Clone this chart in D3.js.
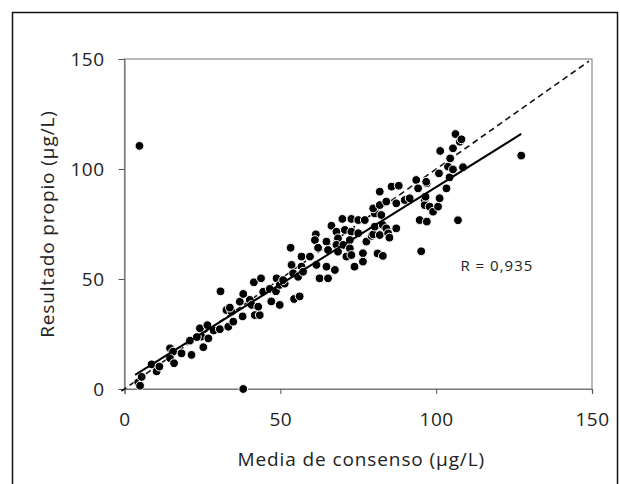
<!DOCTYPE html>
<html>
<head>
<meta charset="utf-8">
<script src="https://d3js.org/d3.v7.min.js"></script>
<style>
  body { margin: 0; background: #fff; }
  text { font-family: "Open Sans", "Noto Sans", sans-serif; fill: #222; }
</style>
</head>
<body>
<div id="my_dataviz"></div>
<script>

// values: consensus mean (x) and own result (y), µg/L
var consenso = [
  4.4, 5.0, 5.5, 8.7, 10.3, 11.2, 14.6, 15.6, 14.6, 15.9, 18.3, 21.5, 21.0, 24.2, 24.7, 25.3,
  26.6, 26.9, 23.2, 28.6, 30.6, 32.7, 33.3, 34.3, 33.8, 34.9, 30.8,
  37.0, 37.9, 38.1, 38.1, 40.2, 40.8, 41.5, 41.8, 43.4, 42.9, 43.8, 44.5, 46.6, 47.1, 48.8,
  48.6, 49.8, 49.8, 51.4, 50.9,
  53.3, 53.6, 54.4, 56.2, 54.1, 55.7, 56.8, 56.8, 57.3, 59.5, 61.4, 61.1, 62.1, 61.6, 62.6,
  64.8, 65.3, 64.8, 65.3, 66.4, 68.0, 68.5, 68.0, 68.5, 67.5, 69.9, 70.7, 70.2, 71.2, 72.8,
  72.8, 72.3, 72.3, 72.8, 73.8, 75.0, 75.0, 76.5, 76.5, 77.6,
  77.1, 79.3, 79.8, 80.3, 80.3, 79.8, 81.9, 81.9, 82.4, 82.9, 81.9, 81.2, 82.9, 84.0, 84.0,
  84.6, 85.0, 85.7, 87.2, 87.2, 88.0, 89.9, 91.5, 93.6, 94.2, 94.7, 95.2, 96.3, 96.3, 97.0,
  97.0, 97.9, 99.0, 100.6,
  96.6, 101.1, 103.3, 96.8, 100.9, 104.3, 103.8, 105.4, 108.6, 104.5, 105.4, 101.3, 106.2,
  107.6, 108.1, 127.3, 107.0, 4.8
];
var propio = [
  3.0, 1.5, 5.5, 11.2, 8.0, 10.2, 18.5, 17.0, 14.0, 11.7, 16.2, 15.5, 22.0, 27.6, 23.8, 19.0,
  29.0, 23.0, 23.6, 26.6, 27.2, 35.9, 28.3, 35.2, 37.0, 30.6, 44.4,
  39.7, 33.0, 43.2, 0.0, 40.5, 38.2, 48.5, 33.6, 33.6, 37.4, 50.3, 44.2, 45.5, 39.8, 50.3,
  44.4, 38.2, 47.3, 47.9, 49.5,
  64.2, 56.4, 40.9, 42.1, 52.6, 51.0, 60.2, 55.6, 53.3, 60.2, 70.3, 67.7, 64.2, 56.4, 50.3,
  67.0, 63.2, 55.6, 50.3, 74.2, 71.5, 68.5, 65.5, 62.4, 54.1, 77.3, 72.3, 65.5, 60.2, 77.3,
  71.5, 67.7, 63.9, 60.9, 55.6, 76.8, 70.8, 61.7, 57.9, 67.0,
  76.8, 69.6, 70.3, 73.8, 79.8, 82.1, 83.6, 89.7, 79.1, 74.5, 70.0, 61.6, 60.5, 85.2, 73.0,
  70.7, 68.8, 92.0, 84.4, 73.0, 92.4, 85.9, 86.7, 95.0, 91.2, 76.8, 62.6, 85.9, 83.6, 93.5,
  76.1, 82.9, 80.6, 82.9,
  87.4, 86.7, 91.2, 94.2, 98.0, 96.2, 101.1, 99.8, 100.8, 104.8, 109.4, 108.2, 115.9,
  112.4, 113.5, 106.1, 76.7, 110.5
];

// axis ticks, identity line and fitted line
var xTicks = [0, 50, 100, 150];
var yTicks = [0, 50, 100, 150];
var identityRange = [-1, 149];
var fitRange = [3.4, 127.3];
var fitSlope = 0.884;
var fitIntercept = 3.4;
var rLabel = "R = 0,935";

var data = consenso.map(function(d, i) { return {x: d, y: propio[i]}; });

// set the dimensions and margins of the graph
var margin = {top: 59, right: 28, bottom: 95, left: 124.5},
    width = 620 - margin.left - margin.right,
    height = 484 - margin.top - margin.bottom;

var svgRoot = d3.select("#my_dataviz")
  .append("svg")
    .attr("width", 620)
    .attr("height", 484);

// outer frame (bottom edge runs off the picture)
svgRoot.append("rect")
  .attr("x", 12.5)
  .attr("y", 12.5)
  .attr("width", 605)
  .attr("height", 490)
  .style("fill", "none")
  .style("stroke", "#111")
  .style("stroke-width", 1.5);

var svg = svgRoot.append("g")
  .attr("transform", "translate(" + margin.left + "," + margin.top + ")");

// scales
var x = d3.scaleLinear().domain([0, 150]).range([0, width]);
var y = d3.scaleLinear().domain([0, 150]).range([height, 0]);

// plot box
svg.append("rect")
  .attr("x", 0)
  .attr("y", 0)
  .attr("width", width)
  .attr("height", height)
  .style("fill", "none")
  .style("stroke", "#8a8a8a")
  .style("stroke-width", 1.2);

// X axis
var gx = svg.append("g")
  .attr("transform", "translate(0," + height + ")")
  .call(d3.axisBottom(x).tickValues(xTicks).tickSize(5).tickPadding(19));
gx.select(".domain").style("stroke", "#777").style("stroke-width", 1.2);
gx.selectAll(".tick line").style("stroke", "#555");
gx.selectAll(".tick text")
  .style("font-size", "19px")
  .style("letter-spacing", "0.5px")
  .style("font-family", "'Open Sans', sans-serif")
  .style("fill", "#222");

// Y axis
var gy = svg.append("g")
  .call(d3.axisLeft(y).tickValues(yTicks).tickSize(6).tickPadding(14));
gy.select(".domain").style("stroke", "#777").style("stroke-width", 1.2);
gy.selectAll(".tick line").style("stroke", "#555");
gy.selectAll(".tick text")
  .style("font-size", "19px")
  .style("letter-spacing", "0.5px")
  .style("font-family", "'Open Sans', sans-serif")
  .style("fill", "#222");

// identity line (dashed)
svg.append("line")
  .attr("x1", x(identityRange[0]))
  .attr("y1", y(identityRange[0]))
  .attr("x2", x(identityRange[1]))
  .attr("y2", y(identityRange[1]))
  .style("stroke", "#111")
  .style("stroke-width", 1.6)
  .style("stroke-dasharray", "6,4");

// points
svg.selectAll("circle")
  .data(data)
  .enter()
  .append("circle")
    .attr("cx", function(d) { return x(d.x); })
    .attr("cy", function(d) { return y(d.y); })
    .attr("r", 4.4)
    .style("fill", "#000")
    .style("stroke", "#fff")
    .style("stroke-width", 1);

// fitted line (solid)
svg.append("line")
  .attr("x1", x(fitRange[0]))
  .attr("y1", y(fitIntercept + fitSlope * fitRange[0]))
  .attr("x2", x(fitRange[1]))
  .attr("y2", y(fitIntercept + fitSlope * fitRange[1]))
  .style("stroke", "#000")
  .style("stroke-width", 2);

// correlation label
svg.append("text")
  .attr("x", x(107.8))
  .attr("y", y(53.6))
  .style("font-size", "15px")
  .style("letter-spacing", "1px")
  .attr("xml:space", "preserve")
  .text(rLabel);

// axis titles
svgRoot.append("text")
  .attr("x", margin.left + width / 2 + 3)
  .attr("y", 466)
  .style("text-anchor", "middle")
  .style("font-size", "19px")
  .style("letter-spacing", "0.9px")
  .text("Media de consenso (µg/L)");

svgRoot.append("text")
  .attr("transform", "rotate(-90)")
  .attr("x", -(margin.top + height / 2))
  .attr("y", 47)
  .attr("dy", "0.35em")
  .style("text-anchor", "middle")
  .style("font-size", "19px")
  .style("letter-spacing", "0.9px")
  .text("Resultado propio (µg/L)");

</script>
</body>
</html>
